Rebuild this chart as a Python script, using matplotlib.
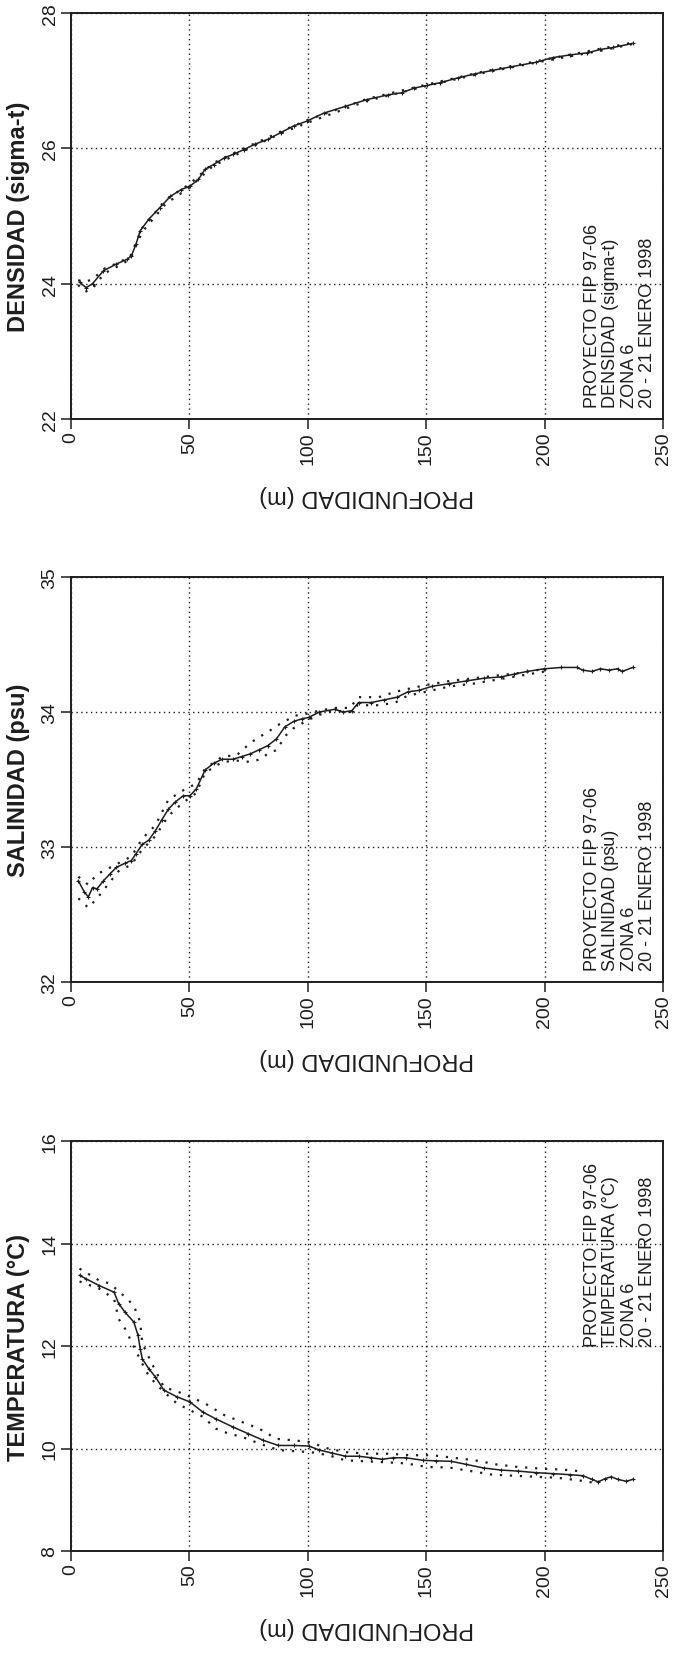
import matplotlib
matplotlib.use("Agg")
import matplotlib.pyplot as plt

plt.rcParams['font.family'] = ['Liberation Sans', 'DejaVu Sans']

# depth ticks / labels
depth_ticks = [0, 50, 100, 150, 200, 250]

# ---- DENSIDAD (sigma-t) ----
dens_depth = [3.6, 6.4, 9.1, 13.7, 19.2, 23.7, 25.5, 27.4, 29.2, 32.8, 37.4, 42, 46.5, 50.2,
              53.8, 56.6, 60.2, 64.8, 68.4, 73, 77.6, 83, 88.5, 94, 99.5, 106.8, 115.9, 125,
              134, 139.6, 145, 150.5, 156, 163.3, 170.6, 177.9, 185.2, 196.2, 203.5, 210.8,
              218, 223.5, 229, 237.2]
dens_mean = [24.02, 23.94, 24.0, 24.19, 24.29, 24.36, 24.41, 24.58, 24.78, 24.95, 25.12, 25.29,
             25.39, 25.44, 25.54, 25.69, 25.76, 25.86, 25.91, 25.98, 26.06, 26.13, 26.23, 26.33,
             26.40, 26.52, 26.62, 26.72, 26.79, 26.82, 26.89, 26.93, 26.97, 27.04, 27.10, 27.15,
             27.20, 27.27, 27.34, 27.38, 27.41, 27.46, 27.49, 27.55]
dens_sd_depth = [3, 6, 9, 14, 20, 25, 30, 40, 50, 60, 70, 80, 90, 100, 125, 150, 175, 200, 225, 237]
dens_upper = [24.05, 24.03, 24.06, 24.22, 24.31, 24.40, 24.82, 25.24, 25.47, 25.78, 25.95, 26.11,
              26.27, 26.42, 26.73, 26.94, 27.14, 27.31, 27.48, 27.56]
dens_lower = [23.98, 23.88, 23.92, 24.15, 24.26, 24.36, 24.76, 25.18, 25.42, 25.74, 25.91, 26.08,
              26.24, 26.38, 26.70, 26.92, 27.12, 27.29, 27.45, 27.54]

# ---- SALINIDAD (psu) ----
sal_depth = [3.1, 5.5, 7.3, 9.1, 11, 13.7, 16.4, 19.2, 22.8, 25.5, 27.4, 30.1, 32.8, 35.6, 38.3,
             41.1, 43.8, 47.4, 50.2, 52.9, 56.6, 60.2, 63.9, 68.4, 72.1, 75.7, 79.4, 83, 86.7,
             90.3, 94, 97.6, 100.4, 104.9, 111.3, 115, 118.6, 121.4, 126.8, 132.3, 137.8, 142.3,
             146.9, 152.4, 159.7, 167, 174.3, 181.6, 187, 192.5, 199.8, 207.1, 213.5, 216.2,
             219.9, 223.5, 227.2, 230.8, 232.7, 237.2]
sal_mean = [32.75, 32.67, 32.63, 32.70, 32.69, 32.75, 32.80, 32.85, 32.88, 32.90, 32.95, 33.02,
            33.05, 33.12, 33.20, 33.28, 33.33, 33.38, 33.38, 33.43, 33.57, 33.62, 33.65, 33.65,
            33.67, 33.69, 33.72, 33.75, 33.80, 33.89, 33.93, 33.95, 33.96, 34.00, 34.02, 34.00,
            34.01, 34.07, 34.07, 34.09, 34.11, 34.15, 34.16, 34.19, 34.21, 34.23, 34.25, 34.26,
            34.28, 34.30, 34.32, 34.33, 34.33, 34.31, 34.30, 34.32, 34.31, 34.32, 34.30, 34.33]
sal_sd_depth = [3.1, 7.3, 11, 14.6, 20, 25.5, 30, 35.6, 41.1, 47.4, 52.9, 56.6, 63.9, 70, 75.7,
                80, 83, 87, 90.3, 94, 100, 105, 111, 118, 121, 130, 137, 142, 150, 160, 170,
                180, 190, 200]
sal_upper = [32.78, 32.72, 32.80, 32.83, 32.88, 32.93, 33.06, 33.16, 33.35, 33.42, 33.47, 33.58,
             33.67, 33.68, 33.77, 33.82, 33.85, 33.90, 33.93, 33.97, 33.99, 34.01, 34.03, 34.03,
             34.11, 34.11, 34.15, 34.17, 34.20, 34.23, 34.25, 34.27, 34.29, 34.32]
sal_lower = [32.62, 32.55, 32.62, 32.70, 32.82, 32.87, 32.98, 33.08, 33.23, 33.33, 33.40, 33.55,
             33.63, 33.64, 33.63, 33.65, 33.69, 33.72, 33.82, 33.88, 33.94, 33.98, 34.01, 34.00,
             34.05, 34.05, 34.07, 34.12, 34.15, 34.19, 34.21, 34.24, 34.27, 34.30]

# ---- TEMPERATURA (°C) ----
temp_depth = [3.6, 6.4, 11.9, 18.2, 20.1, 22.8, 26.5, 28.3, 29.2, 30.1, 32.8, 35.6, 39.2, 44.7,
              50.2, 55.7, 61.1, 68.4, 74.8, 81.2, 87.6, 94, 100.4, 104.9, 110.4, 115.9, 121.4,
              126.8, 131.4, 135.9, 141.4, 148.7, 154.2, 160.6, 167, 174.3, 181.6, 188.9, 196.2,
              203.5, 210.8, 216.2, 219.9, 222.6, 225.4, 228.1, 230.8, 234.5, 237.2]
temp_mean = [13.38, 13.31, 13.18, 13.05, 12.83, 12.66, 12.47, 12.21, 11.95, 11.75, 11.56, 11.40,
             11.14, 11.01, 10.91, 10.71, 10.58, 10.42, 10.29, 10.16, 10.06, 10.06, 10.05, 9.97,
             9.91, 9.85, 9.85, 9.82, 9.79, 9.82, 9.82, 9.77, 9.76, 9.75, 9.69, 9.62, 9.58, 9.56,
             9.53, 9.51, 9.49, 9.47, 9.40, 9.35, 9.41, 9.45, 9.40, 9.36, 9.40]
temp_up_depth = [3.6, 11.9, 16.4, 22.8, 26.5, 29.2, 30.1, 33.8, 39.2, 47.4, 56.6, 64.8, 72.1,
                 79.4, 86.7, 94, 100.4, 108.6, 115.9, 125, 134, 143, 152.4, 161.5, 170.6, 179.7,
                 188.9, 198, 207.1, 214.4]
temp_upper = [13.51, 13.28, 13.22, 12.96, 12.79, 12.47, 12.05, 11.69, 11.20, 11.07, 10.88, 10.65,
              10.52, 10.39, 10.19, 10.16, 10.13, 10.00, 9.93, 9.90, 9.90, 9.87, 9.87, 9.82, 9.77,
              9.69, 9.64, 9.61, 9.59, 9.56]
temp_lo_depth = [3.6, 11.9, 18.2, 20.1, 22.8, 28.3, 31.9, 35.6, 40.1, 44.7, 50.2, 55.7, 61.1,
                 66.6, 72.1, 79.4, 87.6, 94, 101.3, 108.6, 115.9, 125, 134, 141.4, 150.5, 159.7,
                 168.8, 177.9, 187, 196.2, 205.3, 214.4, 219.9]
temp_lower = [13.26, 13.12, 12.92, 12.53, 12.34, 11.82, 11.49, 11.27, 11.07, 10.88, 10.75, 10.62,
              10.39, 10.29, 10.23, 10.10, 9.97, 9.95, 9.93, 9.87, 9.77, 9.75, 9.73, 9.71, 9.64,
              9.63, 9.56, 9.49, 9.47, 9.45, 9.43, 9.38, 9.34]

INK = '#1e1e1e'

fig = plt.figure(figsize=(6.77, 16.58), dpi=100)

panels = [
    # axes rect, ylim, yticks, ylabel, note, note_y, data
    ([0.1049, 0.7467, 0.8745, 0.2449], (22, 28), [22, 24, 26, 28], 'DENSIDAD (sigma-t)',
     'PROYECTO FIP 97-06\nDENSIDAD (sigma-t)\nZONA 6\n20 - 21 ENERO 1998', 0.03,
     (dens_depth, dens_mean, dens_sd_depth, dens_upper, dens_sd_depth, dens_lower)),
    ([0.1049, 0.4071, 0.8745, 0.2443], (32, 35), [32, 33, 34, 35], 'SALINIDAD (psu)',
     'PROYECTO FIP 97-06\nSALINIDAD (psu)\nZONA 6\n20 - 21 ENERO 1998', 0.03,
     (sal_depth, sal_mean, sal_sd_depth, sal_upper, sal_sd_depth, sal_lower)),
    ([0.1049, 0.0639, 0.8745, 0.2473], (8, 16), [8, 10, 12, 14, 16], 'TEMPERATURA (°C)',
     'PROYECTO FIP 97-06\nTEMPERATURA (°C)\nZONA 6\n20 - 21 ENERO 1998', 0.50,
     (temp_depth, temp_mean, temp_up_depth, temp_upper, temp_lo_depth, temp_lower)),
]

for rect, ylim, yticks, ylabel, note, note_y, data in panels:
    ax = fig.add_axes(rect)
    d, m, du, u, dl, lo = data
    ax.plot(du, u, color=INK, lw=1.6, linestyle=(0, (1, 3.5)))
    ax.plot(dl, lo, color=INK, lw=1.6, linestyle=(0, (1, 3.5)))
    ax.plot(d, m, color=INK, lw=1.1, marker='+', ms=3.5, mew=0.8)

    ax.set_xlim(0, 250)
    ax.set_ylim(*ylim)
    ax.set_xticks(depth_ticks)
    ax.set_yticks(yticks)
    ax.grid(True, color=INK, linestyle=(0, (1, 2.5)), linewidth=1.0)
    for s in ax.spines.values():
        s.set_linewidth(1.4)
        s.set_color(INK)
    ax.tick_params(axis='both', direction='out', length=7, width=1.1, color=INK,
                   labelsize=14, labelcolor=INK, pad=2)
    for lab in ax.get_xticklabels():
        lab.set_rotation(90)
    for lab in ax.get_yticklabels():
        lab.set_rotation(90)
        lab.set_va('center')

    ax.set_ylabel(ylabel, fontsize=17, fontweight='bold', color=INK)
    ax.yaxis.set_label_coords(-0.07, 0.5)
    ax.text(0.5, -76 / (rect[3] * 1658), 'PROFUNDIDAD (m)', transform=ax.transAxes,
            rotation=180, ha='center', va='center', fontsize=17, color=INK)
    ax.text(0.866, note_y, note, transform=ax.transAxes, rotation=90,
            ha='left', va='bottom', fontsize=13, color=INK, linespacing=1.12)

fig.savefig('out.png', dpi=100, facecolor='white')
